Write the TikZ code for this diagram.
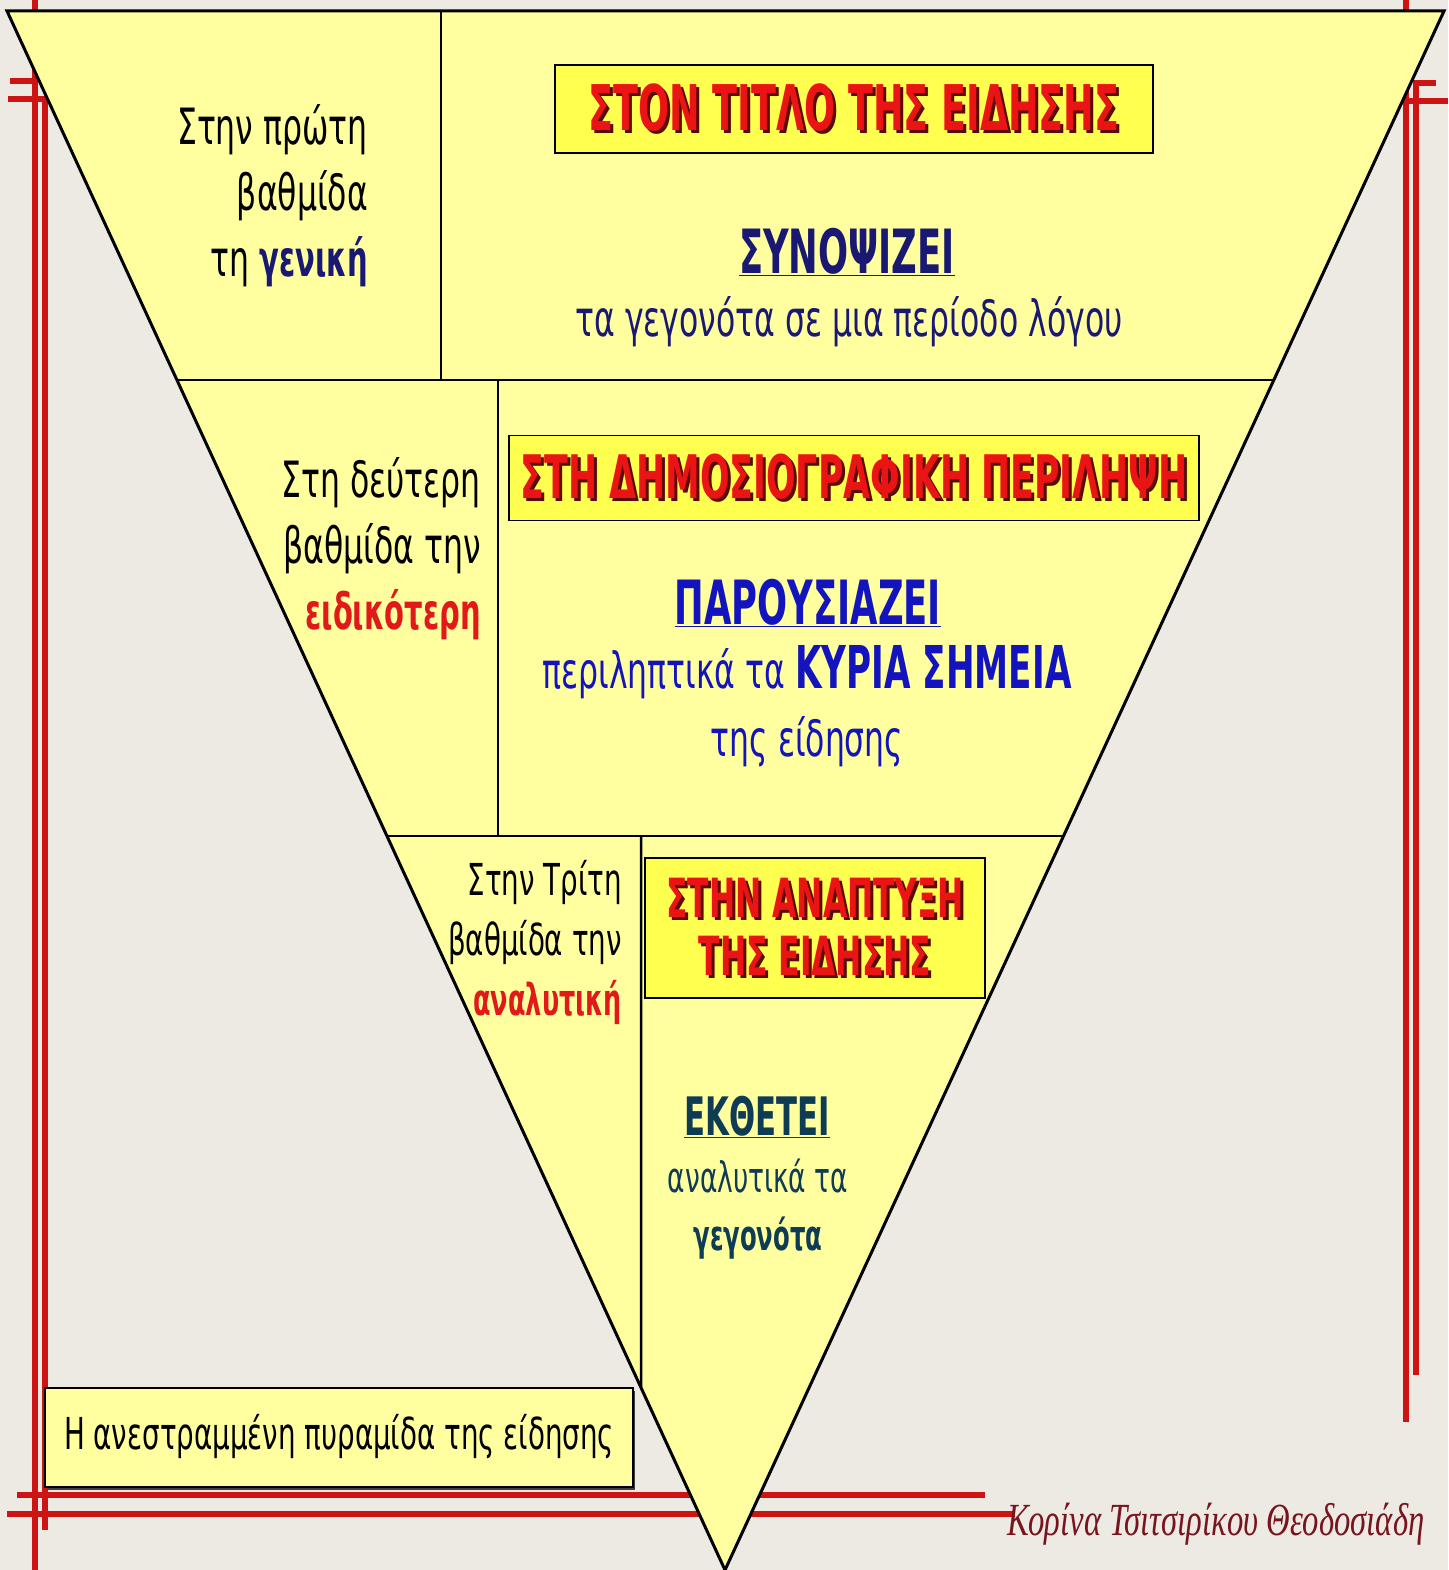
\documentclass[tikz,border=0pt]{standalone}
\usepackage{fontspec}
\setmainfont{DejaVu Sans}[FakeStretch=0.63]
\newfontfamily\titlefont{DejaVu Sans}[FakeStretch=0.58]
\newfontfamily\signfont{Liberation Serif}[FakeStretch=0.71]
\usepackage{tikz}
\usetikzlibrary{calc,positioning,shadows}
\definecolor{figPaper}{RGB}{236,234,226}
\definecolor{figPyramid}{RGB}{255,255,160}
\definecolor{figBanner}{RGB}{255,255,80}
\definecolor{figFrame}{RGB}{205,20,20}
\definecolor{figTitle}{RGB}{235,20,20}
\definecolor{figShade}{RGB}{90,10,10}
\definecolor{figRed}{RGB}{225,25,25}
\definecolor{figNavy}{RGB}{25,25,115}
\definecolor{figBlue}{RGB}{20,20,190}
\definecolor{figTeal}{RGB}{15,60,85}
\definecolor{figSign}{RGB}{120,20,30}
\newcommand{\embossed}[1]{\rlap{\kern3pt\raisebox{-3pt}{\textcolor{figShade}{#1}}}\textcolor{figTitle}{#1}}
\newcommand{\keyword}[2]{{\titlefont\bfseries\textcolor{#1}{#2}}}

\begin{document}
\begin{tikzpicture}[
  x=1pt,y=-1pt,
  redrule/.style={draw=figFrame,line width=6pt},
  divider/.style={draw=black,line width=2.5pt},
  banner/.style={draw=black,line width=1.5pt,fill=figBanner,inner sep=0pt,align=center,font=\titlefont\bfseries\fontsize{63}{58}\selectfont},
  tierlabel/.style={anchor=east,align=right,inner sep=0pt},
  verb/.style={inner sep=0pt,font=\titlefont\bfseries\fontsize{61}{60}\selectfont},
  body/.style={inner sep=0pt,align=center,font=\fontsize{50}{68}\selectfont}
]
\useasboundingbox (0,0) rectangle (1448,1570);
\fill[figPaper] (0,0) rectangle (1448,1570);

% red frame behind the pyramid
\draw[redrule] (35,0) -- (35,1570);
\draw[redrule] (45,99) -- (45,1530);
\draw[redrule] (10,81) -- (38,81);
\draw[redrule] (8,99) -- (48,99);
\draw[redrule] (1406,0) -- (1406,1422);
\draw[redrule] (1416,83) -- (1416,1375);
\draw[redrule] (1413,83) -- (1436,83);
\draw[redrule] (1405,101) -- (1448,101);
\draw[redrule] (17,1495) -- (985,1495);
\draw[redrule] (7,1514) -- (1015,1514);

% pyramid and its tiers
\coordinate (tl) at (7,11);
\coordinate (tr) at (1444,11);
\coordinate (apex) at (725,1570);
\filldraw[fill=figPyramid,draw=black,line width=3pt] (tl) -- (tr) -- (apex) -- cycle;

\coordinate (cut1l) at ($(tl)!0.2367!(apex)$);
\coordinate (cut1r) at ($(tr)!0.2367!(apex)$);
\coordinate (cut2l) at ($(tl)!0.5292!(apex)$);
\coordinate (cut2r) at ($(tr)!0.5292!(apex)$);
\draw[divider] (cut1l) -- (cut1r);
\draw[divider] (cut2l) -- (cut2r);

\coordinate (div1) at (441,11);
\coordinate (div2) at (498,0);
\coordinate (div3) at (641,0);
\coordinate (div3low) at (641,1570);
\draw[divider] (div1) -- (div1 |- cut1l);
\draw[divider] (div2 |- cut1l) -- (div2 |- cut2l);
\draw[divider] (div3 |- cut2l) -- (intersection of tl--apex and div3--div3low);

% first tier
\node[tierlabel,font=\fontsize{50}{66}\selectfont] (firstlabel) at (368,196) {Στην πρώτη\\βαθμίδα\\τη \keyword{figNavy}{γενική}};
\node[banner,minimum width=598pt,minimum height=88pt] (titlebanner) at (854,109) {\embossed{ΣΤΟΝ ΤΙΤΛΟ ΤΗΣ ΕΙΔΗΣΗΣ}};
\node[verb,text=figNavy] (summaryverb) at (847,252) {\underline{ΣΥΝΟΨΙΖΕΙ}};
\node[body,text=figNavy] (summarytext) at (849,322) {τα γεγονότα σε μια περίοδο λόγου};

% second tier
\node[tierlabel,font=\fontsize{50}{66}\selectfont] (secondlabel) at (481,549) {Στη δεύτερη\\βαθμίδα την\\\keyword{figRed}{ειδικότερη}};
\node[banner,minimum width=690pt,minimum height=85pt] (summarybanner) at (854,478) {\fontsize{60}{58}\selectfont\embossed{ΣΤΗ ΔΗΜΟΣΙΟΓΡΑΦΙΚΗ ΠΕΡΙΛΗΨΗ}};
\node[verb,text=figBlue] (presentverb) at (808,603) {\underline{ΠΑΡΟΥΣΙΑΖΕΙ}};
\node[body,text=figBlue] (presenttext) at (807,706) {περιληπτικά τα \keyword{figBlue}{\fontsize{59}{68}\selectfont ΚΥΡΙΑ ΣΗΜΕΙΑ}\\της είδησης};

% third tier
\node[tierlabel,font=\fontsize{44}{60}\selectfont] (thirdlabel) at (622,942) {Στην Τρίτη\\βαθμίδα την\\\keyword{figRed}{αναλυτική}};
\node[banner,minimum width=340pt,minimum height=140pt,font=\titlefont\bfseries\fontsize{54}{58}\selectfont] (bodybanner) at (815,928) {\embossed{ΣΤΗΝ ΑΝΑΠΤΥΞΗ}\\\embossed{ΤΗΣ ΕΙΔΗΣΗΣ}};
\node[verb,text=figTeal,font=\titlefont\bfseries\fontsize{53}{60}\selectfont] (exposeverb) at (757,1117) {\underline{ΕΚΘΕΤΕΙ}};
\node[body,text=figTeal,font=\fontsize{42}{58}\selectfont] (exposetext) at (758,1209) {αναλυτικά τα\\\keyword{figTeal}{γεγονότα}};

% caption and signature
\node[draw=black,line width=2pt,fill=figPyramid,minimum width=588pt,minimum height=99pt,inner sep=0pt,
  drop shadow={shadow xshift=2pt,shadow yshift=-3pt,fill=black!75,opacity=1},
  font=\fontsize{44}{50}\selectfont] (caption) at (339,1437) {Η ανεστραμμένη πυραμίδα της είδησης};
\node[font=\signfont\itshape\fontsize{46}{50}\selectfont,text=figSign,inner sep=0pt] (signature) at (1216,1524) {Κορίνα Τσιτσιρίκου Θεοδοσιάδη};
\end{tikzpicture}
\end{document}
